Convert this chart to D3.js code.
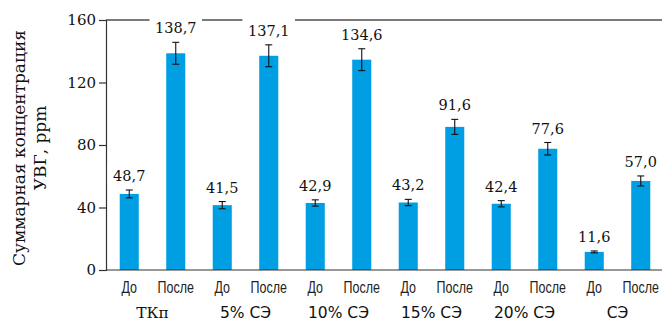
<!DOCTYPE html>
<html>
<head>
<meta charset="utf-8">
<script src="https://cdn.jsdelivr.net/npm/d3@7"></script>
<style>
  html, body { margin: 0; padding: 0; background: #fff; }
  svg { display: block; }
</style>
</head>
<body>
<svg id="chart" width="662" height="323"></svg>
<script>
// Total dissolved gas concentration before/after, per sample group
const groups = ["ТКп", "5% СЭ", "10% СЭ", "15% СЭ", "20% СЭ", "СЭ"];
const phases = ["До", "После"];
const valuesBefore = [48.7, 41.5, 42.9, 43.2, 42.4, 11.6];
const valuesAfter  = [138.7, 137.1, 134.6, 91.6, 77.6, 57.0];
const errBefore = [2.5, 2.3, 2.0, 2.0, 2.0, 0.6];
const errAfter  = [7.0, 7.0, 7.0, 4.8, 4.0, 3.2];
const yTicks = [0, 40, 80, 120, 160];

const bars = [];
groups.forEach((g, i) => {
  bars.push({ id: g + "|" + phases[0], group: g, phase: phases[0], value: valuesBefore[i], err: errBefore[i] });
  bars.push({ id: g + "|" + phases[1], group: g, phase: phases[1], value: valuesAfter[i], err: errAfter[i] });
});

const svg = d3.select("#chart");
const plotLeft = 106, plotRight = 664, plotTop = 20, plotBottom = 270;

const x = d3.scaleBand()
  .domain(bars.map(d => d.id))
  .range([plotLeft, plotRight])
  .paddingInner(0.59)
  .paddingOuter(0.295);

const y = d3.scaleLinear().domain([0, 160]).range([plotBottom, plotTop]);

const serif = "'DejaVu Serif', serif";
const cond = "'Liberation Sans', Arial, sans-serif";
const sans = "'DejaVu Sans', sans-serif";

// top frame line
svg.append("line")
  .attr("x1", plotLeft).attr("x2", 662)
  .attr("y1", y(160)).attr("y2", y(160))
  .attr("stroke", "#7a7a7a").attr("stroke-width", 1.8);

// y axis
const yAxis = svg.append("g")
  .attr("transform", `translate(${plotLeft},0)`)
  .call(d3.axisLeft(y).tickValues(yTicks).tickSize(7).tickPadding(3).tickFormat(d3.format("d")));
yAxis.select(".domain").attr("stroke", "#333").attr("stroke-width", 1.2);
yAxis.selectAll(".tick line").attr("stroke", "#333").attr("stroke-width", 1.2);
yAxis.selectAll(".tick text")
  .attr("font-family", serif).attr("font-size", 15).attr("fill", "#111");

// bars
svg.append("g").selectAll("rect")
  .data(bars).join("rect")
  .attr("x", d => x(d.id))
  .attr("y", d => y(d.value))
  .attr("width", x.bandwidth())
  .attr("height", d => y(0) - y(d.value))
  .attr("fill", "#009fe3");

// x baseline
svg.append("line")
  .attr("x1", plotLeft).attr("x2", 662)
  .attr("y1", y(0)).attr("y2", y(0))
  .attr("stroke", "#333").attr("stroke-width", 1.2);

// error bars
const eb = svg.append("g").attr("stroke", "#111").attr("stroke-width", 1.1);
bars.forEach(d => {
  const cx = x(d.id) + x.bandwidth() / 2;
  const y1 = y(d.value + d.err), y2 = y(d.value - d.err);
  eb.append("line").attr("x1", cx).attr("x2", cx).attr("y1", y1).attr("y2", y2);
  eb.append("line").attr("x1", cx - 3.5).attr("x2", cx + 3.5).attr("y1", y1).attr("y2", y1);
  eb.append("line").attr("x1", cx - 3.5).attr("x2", cx + 3.5).attr("y1", y2).attr("y2", y2);
});

// value labels on white boxes
const fmt = v => v.toFixed(1).replace(".", ",");
const lab = svg.append("g");
bars.forEach(d => {
  const cx = x(d.id) + x.bandwidth() / 2;
  const base = y(d.value + d.err) - 9;
  const g = lab.append("g");
  const t = g.append("text")
    .attr("x", cx).attr("y", base)
    .attr("text-anchor", "middle")
    .attr("font-family", serif).attr("font-size", 14.5).attr("fill", "#111")
    .text(fmt(d.value));
  const w = t.node().getComputedTextLength();
  g.insert("rect", "text")
    .attr("x", cx - w / 2 - 5.5).attr("y", base - 17.5)
    .attr("width", w + 11).attr("height", 21)
    .attr("fill", "#fff");
});

// phase labels (horizontally condensed)
svg.append("g").selectAll("text")
  .data(bars).join("text")
  .attr("transform", d => `translate(${x(d.id) + x.bandwidth() / 2},293) scale(0.78,1)`)
  .attr("text-anchor", "middle")
  .attr("font-family", cond).attr("font-size", 16).attr("fill", "#222")
  .text(d => d.phase);

// group labels
svg.append("g").selectAll("text")
  .data(groups).join("text")
  .attr("x", g => (x(g + "|" + phases[0]) + x(g + "|" + phases[1]) + x.bandwidth()) / 2)
  .attr("y", 318)
  .attr("text-anchor", "middle")
  .attr("font-family", (g, i) => i === 0 ? serif : sans)
  .attr("font-size", 15.5).attr("fill", "#111")
  .text(g => g);

// y axis title
const title = svg.append("text")
  .attr("transform", `translate(0,${(plotTop + plotBottom) / 2 + 3}) rotate(-90)`)
  .attr("text-anchor", "middle")
  .attr("font-family", serif).attr("font-size", 17).attr("fill", "#111");
title.append("tspan").attr("x", 0).attr("y", 25).text("Суммарная концентрация");
title.append("tspan").attr("x", 0).attr("y", 46).text("УВГ, ppm");
</script>
</body>
</html>
